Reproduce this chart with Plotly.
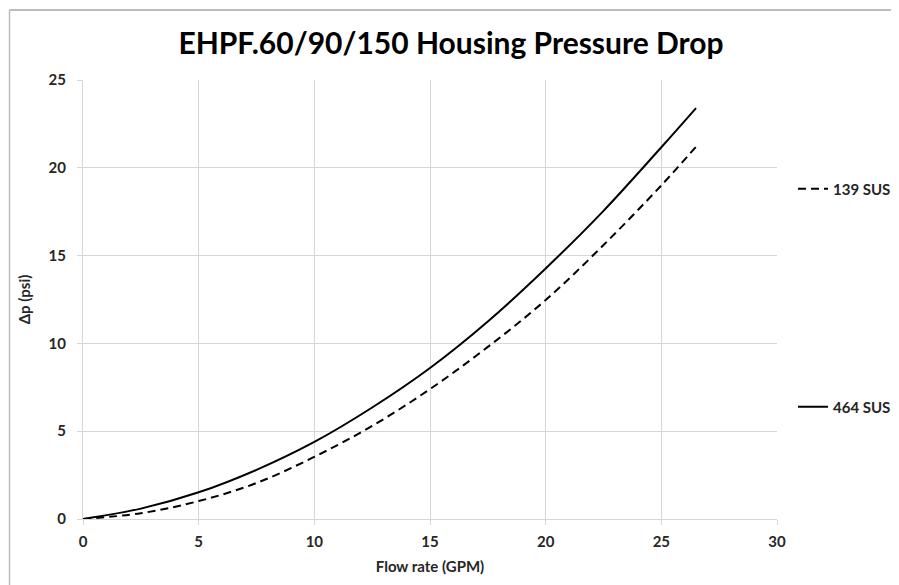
import plotly.graph_objects as go

flow_gpm = [0, 2.5, 5, 7.5, 10, 12.5, 15, 17.5, 20, 22.5, 25, 26.5]
dp_139_sus = [0, 0.33, 1.02, 2.05, 3.54, 5.3, 7.4, 9.8, 12.47, 15.6, 19.0, 21.2]
dp_464_sus = [0, 0.59, 1.52, 2.8, 4.39, 6.35, 8.6, 11.25, 14.27, 17.55, 21.17, 23.4]

x_ticks = [0, 5, 10, 15, 20, 25, 30]
y_ticks = [0, 5, 10, 15, 20, 25]

FONT = "Lato"
grid_col = "#d6d6d6"
text_col = "#262626"

fig = go.Figure()
fig.add_trace(go.Scatter(
    x=flow_gpm, y=dp_139_sus, mode="lines", name="139 SUS",
    line=dict(color="black", width=2, dash="8px,5px", shape="spline"),
    legend="legend",
))
fig.add_trace(go.Scatter(
    x=flow_gpm, y=dp_464_sus, mode="lines", name="464 SUS",
    line=dict(color="black", width=2, shape="spline"),
    legend="legend2",
))

# page body adds an 8px offset; work in window pixels and compensate
OFF = 8
WIN_W, WIN_H = 899, 585
W, H = WIN_W - OFF, WIN_H - OFF
PL, PR, PT, PB = 83, 777, 80, 519   # plot area in window pixels
L, T = PL - OFF, PT - OFF
R, B = W - (PR - OFF), H - (PB - OFF)
pw = PR - PL
ph = PB - PT

def px_x(p):
    return (p - PL) / pw

def px_y(p):
    return (PB - p) / ph

def cx(p):
    return (p - OFF) / W

def cy(p):
    return 1 - (p - OFF) / H

tick_font = dict(family=FONT, size=15, color=text_col, weight="bold")

legend_common = dict(
    font=dict(family=FONT, size=15, color=text_col, weight="bold"),
    bgcolor="rgba(0,0,0,0)", borderwidth=0,
    xref="container", yref="container",
    xanchor="left", yanchor="middle", itemwidth=30,
)

fig.update_layout(
    width=W, height=H,
    margin=dict(l=L, r=R, t=T, b=B, autoexpand=False),
    paper_bgcolor="white", plot_bgcolor="white",
    title=dict(
        text="EHPF.60/90/150 Housing Pressure Drop",
        x=cx(451), xref="container", xanchor="center",
        y=cy(43), yref="container", yanchor="middle",
        font=dict(family=FONT, size=30, color="black", weight="bold"),
    ),
    xaxis=dict(
        range=[0, 30], tickvals=x_ticks, showgrid=True, gridcolor=grid_col,
        gridwidth=1, showline=True, linecolor=grid_col, linewidth=1,
        zeroline=False, ticks="outside", ticklen=5, tickcolor=grid_col,
        tickfont=tick_font, ticklabelstandoff=4,
        title=dict(text="Flow rate (GPM)", standoff=12,
                   font=dict(family=FONT, size=15, color=text_col, weight="bold")),
        fixedrange=True,
    ),
    yaxis=dict(
        range=[0, 25], tickvals=y_ticks, showgrid=True, gridcolor=grid_col,
        gridwidth=1, showline=True, linecolor=grid_col, linewidth=1,
        zeroline=False, ticks="outside", ticklen=5, tickcolor=grid_col,
        tickfont=tick_font, ticklabelstandoff=8,
        title=dict(text="Δp (psi)", standoff=14,
                   font=dict(family=FONT, size=15, color=text_col, weight="bold")),
        fixedrange=True,
    ),
    legend=dict(x=cx(793), y=cy(189), **legend_common),
    legend2=dict(x=cx(793), y=cy(407), **legend_common),
    showlegend=True,
    shapes=[
        dict(type="line", xref="paper", yref="paper",
             x0=px_x(9.5), x1=px_x(WIN_W + 5), y0=px_y(10), y1=px_y(10),
             line=dict(color="#a6a6a6", width=1.5)),
        dict(type="line", xref="paper", yref="paper",
             x0=px_x(9.5), x1=px_x(9.5), y0=px_y(10), y1=px_y(WIN_H + 5),
             line=dict(color="#bdbdbd", width=1.5)),
    ],
)

fig.write_html("out.html")
